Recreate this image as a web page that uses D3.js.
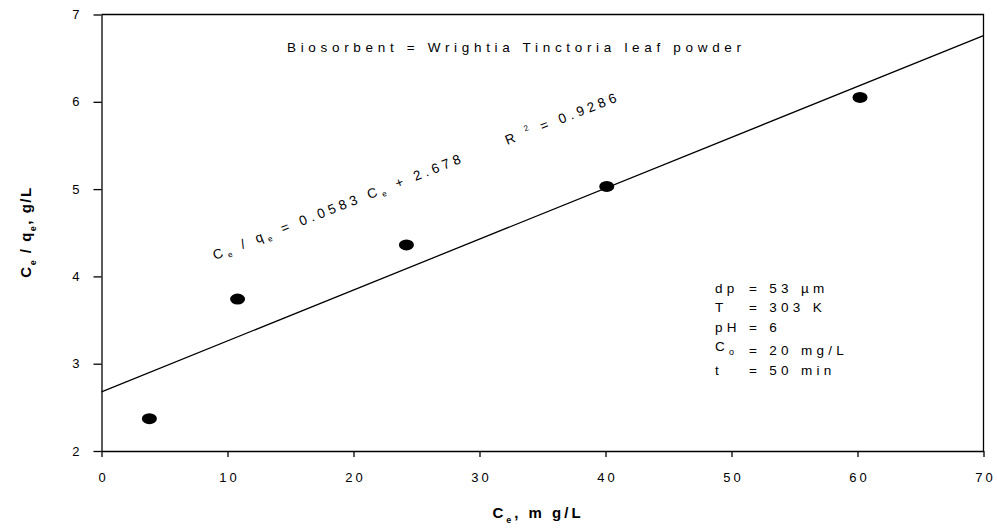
<!DOCTYPE html>
<html>
<head>
<meta charset="utf-8">
<script src="https://cdn.jsdelivr.net/npm/d3@7"></script>
<style>
  html, body { margin: 0; padding: 0; background: #fff; }
  svg { display: block; }
  text { font-family: "Liberation Sans", Arial, sans-serif; fill: #000; }
</style>
</head>
<body>
<svg id="chart" width="997" height="529"></svg>
<script>
// Langmuir-type linear plot: Ce/qe versus Ce
const ceValues = [3.8, 10.8, 24.2, 40.1, 60.2];
const ceOverQe = [2.37, 3.74, 4.36, 5.03, 6.05];
const xTicks = [0, 10, 20, 30, 40, 50, 60, 70];
const yTicks = [2, 3, 4, 5, 6, 7];
const fitSlope = 0.0583;
const fitIntercept = 2.678;
const rSquared = "0.9286";
const conditionLabels = ["dp", "T", "pH", "C", "t"];
const conditionSubs = ["", "", "", "o", ""];
const conditionValues = ["= 53 \u00b5m", "= 303 K", "= 6", "= 20 mg/L", "= 50 min"];

const svg = d3.select("#chart");
const x = d3.scaleLinear().domain([0, 70]).range([101.5, 983.5]);
const y = d3.scaleLinear().domain([2, 7]).range([451, 14.5]);

// frame (top and right edges)
svg.append("path")
  .attr("d", `M${x(0)},${y(7)}H${x(70)}V${y(2)}`)
  .attr("fill", "none").attr("stroke", "#000").attr("stroke-width", 1.3);

// axes
const xAxis = svg.append("g").attr("transform", `translate(0,${y(2)})`)
  .call(d3.axisBottom(x).tickValues(xTicks).tickFormat(d3.format("d"))
    .tickSize(6).tickSizeOuter(0).tickPadding(16));
const yAxis = svg.append("g").attr("transform", `translate(${x(0)},0)`)
  .call(d3.axisLeft(y).tickValues(yTicks).tickFormat(d3.format("d"))
    .tickSize(8).tickSizeOuter(0).tickPadding(14));
[xAxis, yAxis].forEach(g => {
  g.selectAll(".domain").attr("stroke", "#000").attr("stroke-width", 1.3);
  g.selectAll(".tick line").attr("stroke", "#000").attr("stroke-width", 1.3);
  g.selectAll(".tick text")
    .attr("font-family", "Liberation Sans, Arial, sans-serif")
    .attr("font-size", 13).attr("fill", "#000");
});
xAxis.selectAll(".tick text").style("letter-spacing", "3px").attr("dx", "1.5px");

// fitted line
svg.append("line")
  .attr("x1", x(0)).attr("y1", y(fitIntercept))
  .attr("x2", x(70)).attr("y2", y(fitIntercept + fitSlope * 70))
  .attr("stroke", "#000").attr("stroke-width", 1.3);

// data points
svg.selectAll("ellipse.pt").data(ceValues).enter().append("ellipse")
  .attr("class", "pt")
  .attr("cx", d => x(d)).attr("cy", (d, i) => y(ceOverQe[i]))
  .attr("rx", 7.5).attr("ry", 5.5).attr("fill", "#000");

// caption
svg.append("text")
  .attr("x", 287).attr("y", 52).attr("font-size", 13.5)
  .attr("textLength", 454).attr("lengthAdjust", "spacing")
  .text("Biosorbent = Wrightia Tinctoria leaf powder");

// regression equation along the line
const eq = svg.append("g").attr("transform", "translate(215,260) rotate(-21.5)");
const eqText = eq.append("text").attr("font-size", 13.5).style("letter-spacing", "4px");
eqText.append("tspan").text("C");
eqText.append("tspan").attr("font-size", 8).attr("dy", 3).text("e");
eqText.append("tspan").attr("dy", -3).text(" / q");
eqText.append("tspan").attr("font-size", 8).attr("dy", 3).text("e");
eqText.append("tspan").attr("dy", -3).text(" = " + fitSlope + " C");
eqText.append("tspan").attr("font-size", 8).attr("dy", 3).text("e");
eqText.append("tspan").attr("dy", -3).text(" + " + fitIntercept.toFixed(3));
const r2 = eq.append("text").attr("x", 314).attr("font-size", 13.5).style("letter-spacing", "4px");
r2.append("tspan").text("R ");
r2.append("tspan").attr("font-size", 8).attr("dy", -6).text("2");
r2.append("tspan").attr("dy", 6).text(" = " + rSquared);

// experimental conditions
const cond = svg.append("g");
conditionLabels.forEach((lab, i) => {
  const yy = [293, 312, 332, 351, 375][i];
  const t = cond.append("text").attr("y", yy).attr("font-size", 13.5).style("letter-spacing", "4.3px");
  t.append("tspan").attr("x", 715).text(lab);
  if (conditionSubs[i]) {
    t.append("tspan").attr("font-size", 9).attr("dy", 4).text(conditionSubs[i]);
    t.append("tspan").attr("dy", -4).text("");
  }
  t.append("tspan").attr("x", 749).text(conditionValues[i]);
});

// axis titles
const xt = svg.append("text")
  .attr("x", 538).attr("y", 518).attr("text-anchor", "middle")
  .attr("font-size", 15).attr("font-weight", "bold").style("letter-spacing", "3px");
xt.append("tspan").text("C");
xt.append("tspan").attr("font-size", 9).attr("dy", 5).text("e");
xt.append("tspan").attr("dy", -5).text(", m g/L");

const yt = svg.append("text")
  .attr("transform", "translate(31,232) rotate(-90)").attr("text-anchor", "middle")
  .attr("font-size", 15).attr("font-weight", "bold").style("letter-spacing", "1.5px");
yt.append("tspan").text("C");
yt.append("tspan").attr("font-size", 9).attr("dy", 5).text("e");
yt.append("tspan").attr("dy", -5).text(" / q");
yt.append("tspan").attr("font-size", 9).attr("dy", 5).text("e");
yt.append("tspan").attr("dy", -5).text(", g/L");
</script>
</body>
</html>
